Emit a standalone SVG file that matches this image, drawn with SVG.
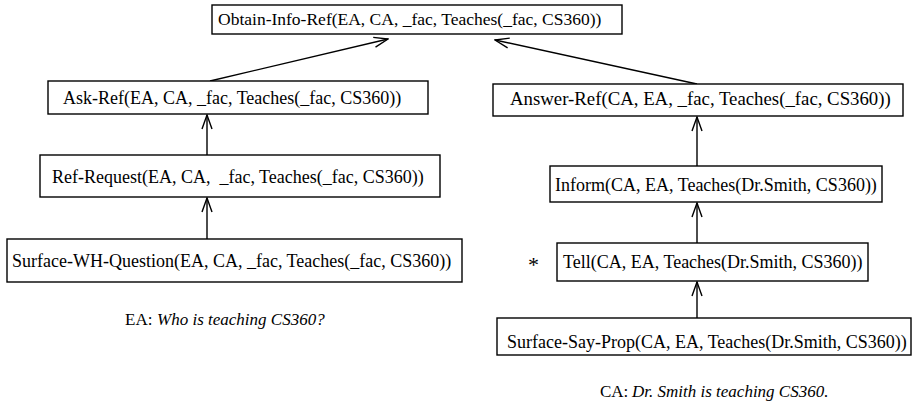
<svg xmlns="http://www.w3.org/2000/svg" width="913" height="410" viewBox="0 0 913 410">
<style>
.box{fill:#fff;stroke:#000;stroke-width:1.4}
.t{font-family:"Liberation Serif","Times New Roman",serif;font-size:18px;fill:#000}
.cap{font-family:"Liberation Serif","Times New Roman",serif;font-size:17px;fill:#000}
.it{font-style:italic}
.edge{fill:none;stroke:#000;stroke-width:1.4}
</style>
<defs>
<marker id="ah" viewBox="0 0 16 12" refX="15" refY="6" markerWidth="16" markerHeight="12" markerUnits="userSpaceOnUse" orient="auto">
<path d="M1,1 L15,6 L1,11" fill="none" stroke="#000" stroke-width="1.4"/>
</marker>
</defs>
<rect width="913" height="410" fill="#fff"/>
<g id="connectors">
<path class="edge" d="M210,81 L388,39" marker-end="url(#ah)"/>
<path class="edge" d="M697,84 L495,40" marker-end="url(#ah)"/>
<path class="edge" d="M207,155 L207,115" marker-end="url(#ah)"/>
<path class="edge" d="M207,239 L207,198" marker-end="url(#ah)"/>
<path class="edge" d="M697,166 L697,117" marker-end="url(#ah)"/>
<path class="edge" d="M697,243 L697,203" marker-end="url(#ah)"/>
<path class="edge" d="M697,318 L697,282" marker-end="url(#ah)"/>
</g>
<g id="obtain-info-ref">
<rect class="box" x="212" y="5" width="410" height="29"/>
<text class="t" x="218" y="25" style="font-size:17.5px">Obtain-Info-Ref(EA, CA, _fac, Teaches(_fac, CS360))</text>
</g>
<g id="ask-ref">
<rect class="box" x="48" y="81" width="380" height="33"/>
<text class="t" x="63" y="104">Ask-Ref(EA, CA, _fac, Teaches(_fac, CS360))</text>
</g>
<g id="ref-request">
<rect class="box" x="40" y="155" width="400" height="42"/>
<text class="t" x="52" y="183" xml:space="preserve">Ref-Request(EA, CA,  _fac, Teaches(_fac, CS360))</text>
</g>
<g id="surface-wh-question">
<rect class="box" x="7" y="239" width="455" height="43"/>
<text class="t" x="12" y="267">Surface-WH-Question(EA, CA, _fac, Teaches(_fac, CS360))</text>
</g>
<g id="answer-ref">
<rect class="box" x="493" y="84" width="410" height="32"/>
<text class="t" x="510" y="105" style="font-size:18.8px">Answer-Ref(CA, EA, _fac, Teaches(_fac, CS360))</text>
</g>
<g id="inform">
<rect class="box" x="550" y="166" width="332" height="36"/>
<text class="t" x="555" y="191">Inform(CA, EA, Teaches(Dr.Smith, CS360))</text>
</g>
<g id="tell">
<text class="t" x="528" y="272" style="font-size:22px">*</text>
<rect class="box" x="557" y="243" width="311" height="38"/>
<text class="t" x="563" y="268">Tell(CA, EA, Teaches(Dr.Smith, CS360))</text>
</g>
<g id="surface-say-prop">
<rect class="box" x="497" y="318" width="414" height="37"/>
<text class="t" x="507" y="348">Surface-Say-Prop(CA, EA, Teaches(Dr.Smith, CS360))</text>
</g>
<g id="captions">
<text class="cap" x="125" y="325">EA:<tspan class="it" x="157">Who is teaching CS360?</tspan></text>
<text class="cap" x="600" y="397">CA:<tspan class="it" x="632">Dr. Smith is teaching CS360.</tspan></text>
</g>
</svg>
